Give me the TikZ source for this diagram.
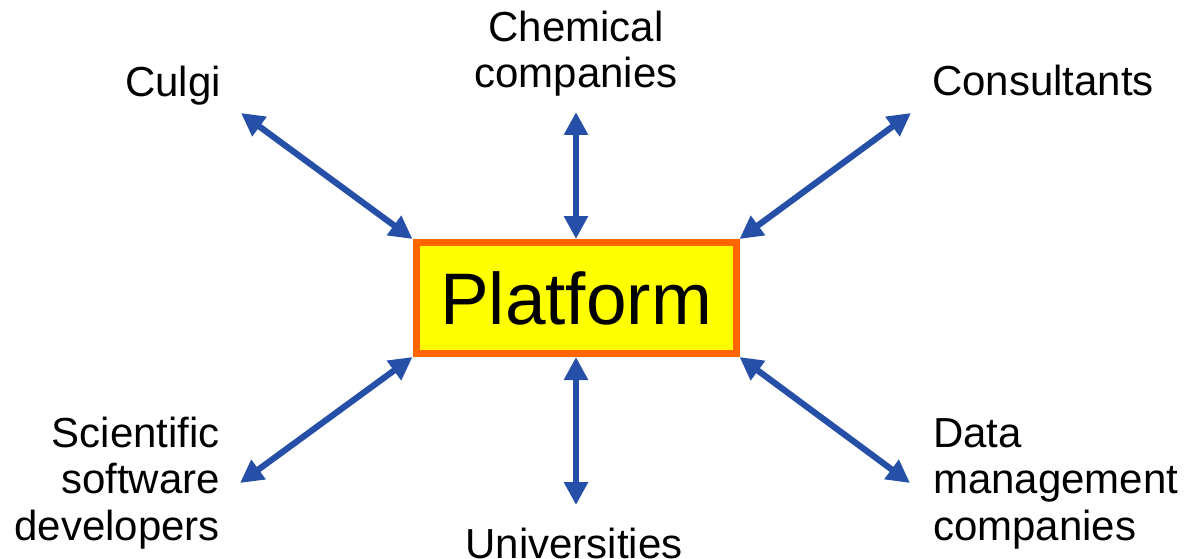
\documentclass[tikz,border=0pt]{standalone}
\usepackage{fontspec}
\setmainfont{Liberation Sans}
\usetikzlibrary{arrows.meta}
\definecolor{linkblue}{RGB}{38,80,168}
\definecolor{frameorange}{RGB}{255,102,0}
\definecolor{boxyellow}{RGB}{255,255,0}
\tikzset{
  link/.style={{Triangle[length=23pt,width=23pt]}-{Triangle[length=23pt,width=23pt]}, line width=6.2pt, draw=linkblue},
  party/.style={inner sep=0pt, font=\fontsize{42}{46.5}\selectfont},
}
\begin{document}
\begin{tikzpicture}[x=1pt,y=-1pt]
    \useasboundingbox (0,0) rectangle (1186,559);
    \coordinate (cu) at (241,113);
    \coordinate (ch) at (576,112);
    \coordinate (co) at (911,113);
    \coordinate (sc) at (240,483);
    \coordinate (un) at (576,505);
    \coordinate (da) at (910,483);
    \node[draw=frameorange, fill=boxyellow, line width=7pt, minimum width=320pt, minimum height=111pt, inner sep=0pt, font=\fontsize{73}{80}\selectfont] (P) at (576,298) {Platform};
    \node[party, anchor=base west] (culgi) at (125,97) {Culgi};
    \node[party, anchor=base, align=center] (chem) at (576,88) {Chemical\\companies};
    \node[party, anchor=base west] (cons) at (932,96) {Consultants};
    \node[party, anchor=base east, align=right] (sci) at (220,540) {Scientific\\software\\developers};
    \node[party, anchor=base] (uni) at (574,558) {Universities};
    \node[party, anchor=base west, align=left] (data) at (933,540) {Data\\management\\companies};
    \draw[link] (P.north west) -- (cu);
    \draw[link] (P.north) -- (ch);
    \draw[link] (P.north east) -- (co);
    \draw[link] (P.south west) -- (sc);
    \draw[link] (P.south) -- (un);
    \draw[link] (P.south east) -- (da);
  \end{tikzpicture}
\end{document}
